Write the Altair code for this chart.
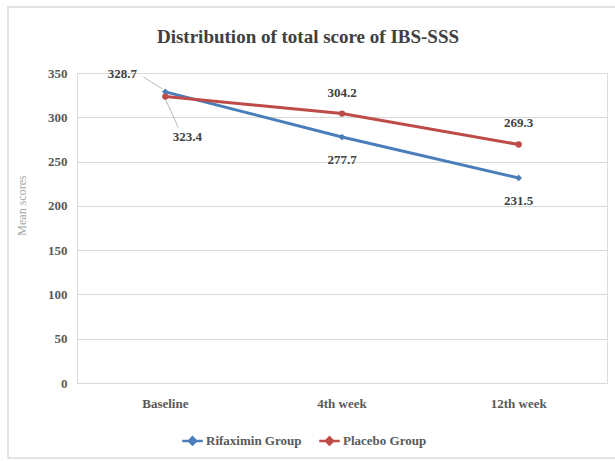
import altair as alt
import pandas as pd

weeks = ["Baseline", "4th week", "12th week"]
rifaximin = [328.7, 277.7, 231.5]
placebo = [323.4, 304.2, 269.3]
groups = ["Rifaximin Group", "Placebo Group"]
colors = ["#4A7EBB", "#BE4B48"]

rows = []
for w, v in zip(weeks, rifaximin):
    rows.append({"week": w, "score": v, "group": groups[0], "label": f"{v:.1f}"})
for w, v in zip(weeks, placebo):
    rows.append({"week": w, "score": v, "group": groups[1], "label": f"{v:.1f}"})
df = pd.DataFrame(rows)

FONT = "Liberation Serif"
TXT = "#404040"

x = alt.X("week:N", sort=weeks, title=None,
          scale=alt.Scale(paddingInner=0, paddingOuter=0),
          axis=alt.Axis(labelAngle=0, labelFont=FONT, labelFontSize=13, labelColor="#595959",
                        labelFontWeight="bold", labelPadding=14, domain=False, ticks=False, grid=False))
y = alt.Y("score:Q", title="Mean scores",
          scale=alt.Scale(domain=[0, 350]),
          axis=alt.Axis(values=[0, 50, 100, 150, 200, 250, 300, 350], labelFont=FONT, labelFontSize=13,
                        labelColor="#595959", labelFontWeight="bold", labelPadding=10,
                        domain=False, ticks=False, gridColor="#D9D9D9", gridWidth=1,
                        titleFont=FONT, titleFontSize=12, titleColor="#A6A6A6",
                        titleFontWeight="normal", titleX=-49, titleY=132, titleAngle=-90))
color = alt.Color("group:N", sort=groups, title=None,
                  scale=alt.Scale(domain=groups, range=colors),
                  legend=alt.Legend(orient="none", legendX=104, legendY=356, direction="horizontal",
                                    symbolType="M-1,0H1M0,-0.35L0.35,0L0,0.35L-0.35,0Z",
                                    symbolSize=420, symbolStrokeWidth=2.5,
                                    labelFont=FONT, labelFontSize=13, labelColor="#595959",
                                    labelFontWeight="bold", columnPadding=12, labelOffset=2))
color_nl = alt.Color("group:N", sort=groups, scale=alt.Scale(domain=groups, range=colors), legend=None)

base = alt.Chart(df)
rif = base.transform_filter(alt.datum.group == groups[0])
pla = base.transform_filter(alt.datum.group == groups[1])

frame = rif.transform_filter(alt.datum.week == "Baseline").mark_rect(
    fill="white", fillOpacity=0, stroke="#D9D9D9", strokeWidth=1.5
).encode(x=alt.value(-69), x2=alt.value(620), y=alt.value(-66), y2=alt.value(385))

lines = base.mark_line(strokeWidth=3).encode(x=x, y=y, color=color)
pts_r = rif.mark_point(filled=True, size=45, opacity=1, shape="diamond").encode(x=x, y=y, color=color_nl)
pts_p = pla.mark_point(filled=True, size=40, opacity=1, shape="circle").encode(x=x, y=y, color=color_nl)

tstyle = dict(font=FONT, fontSize=13, fontWeight="bold", color=TXT)

rif_base = rif.transform_filter(alt.datum.week == "Baseline").mark_text(dx=-43, dy=-18, **tstyle).encode(x=x, y=y, text="label:N")
rif_rest = rif.transform_filter(alt.datum.week != "Baseline").mark_text(dy=23, **tstyle).encode(x=x, y=y, text="label:N")
pla_base = pla.transform_filter(alt.datum.week == "Baseline").mark_text(dx=22, dy=40, **tstyle).encode(x=x, y=y, text="label:N")
pla_rest = pla.transform_filter(alt.datum.week != "Baseline").mark_text(dy=-21, **tstyle).encode(x=x, y=y, text="label:N")

lead1 = rif.transform_filter(alt.datum.week == "Baseline").mark_rule(
    color="#A6A6A6", strokeWidth=0.8, xOffset=-22, yOffset=-15, x2Offset=-3, y2Offset=-3
).encode(x=x, y=y, x2="week:N", y2="score:Q")
lead2 = pla.transform_filter(alt.datum.week == "Baseline").mark_rule(
    color="#A6A6A6", strokeWidth=0.8, xOffset=-2, yOffset=-2, x2Offset=13, y2Offset=31
).encode(x=x, y=y, x2="week:N", y2="score:Q")

chart = alt.layer(frame, lead1, lead2, lines, pts_r, pts_p, rif_base, rif_rest, pla_base, pla_rest).properties(
    width=530, height=310,
    title=alt.TitleParams("Distribution of total score of IBS-SSS", font=FONT, fontSize=19,
                          fontWeight="bold", color=TXT, anchor="middle", dx=-34, offset=-41),
    autosize=alt.AutoSizeParams(type="none"),
    padding={"left": 77, "top": 73, "right": 8, "bottom": 78},
).configure_view(stroke=None).configure(background="white")

chart.save("out.html", embed_options={"renderer": "svg", "actions": False})
